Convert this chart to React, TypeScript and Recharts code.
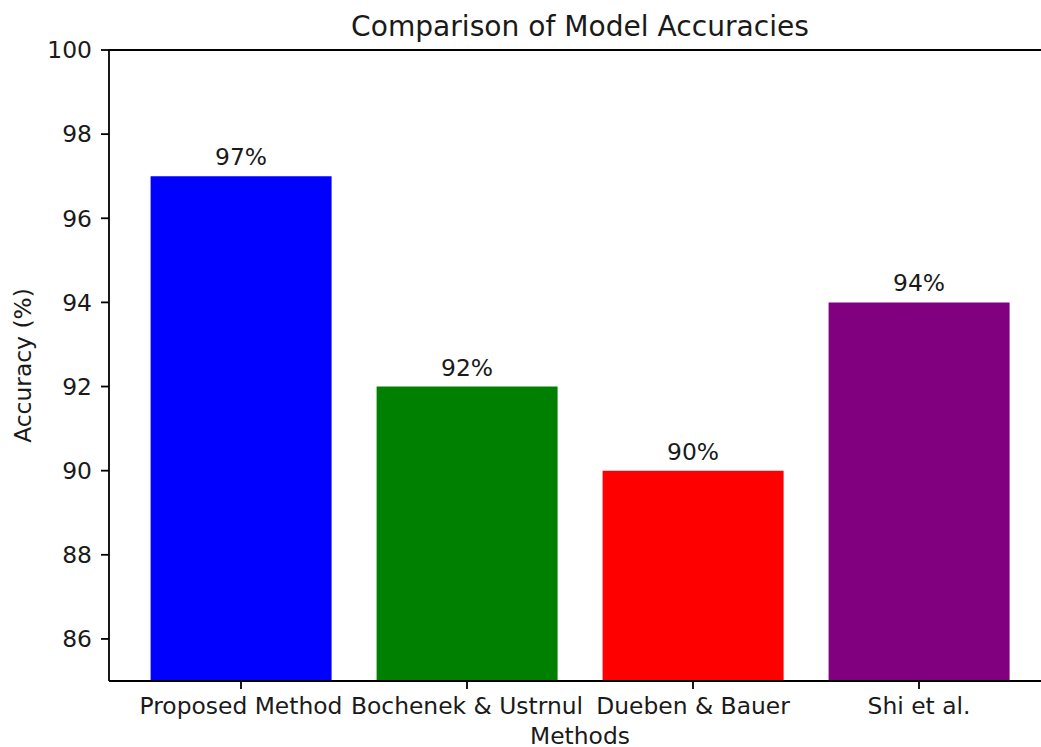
import React from 'react';
import { BarChart, Bar, XAxis, YAxis, Cell, LabelList, ReferenceLine } from 'recharts';

const methods = ['Proposed Method', 'Bochenek & Ustrnul', 'Dueben & Bauer', 'Shi et al.'];
const accuracies = [97, 92, 90, 94];
const barColors = ['#0000ff', '#008000', '#ff0000', '#800080'];
const yTicks = [86, 88, 90, 92, 94, 96, 98, 100];
const yDomain = [85, 100];
const titleText = 'Comparison of Model Accuracies';
const xLabel = 'Methods';
const yLabel = 'Accuracy (%)';

const FONT = '"DejaVu Sans", sans-serif';
const TICK_FS = 23.4;
const TITLE_FS = 28.1;

const data = methods.map((m, i) => ({ method: m, accuracy: accuracies[i] }));

export default function App() {
  return (
    <div style={{ position: 'absolute', left: 0, top: 0, width: 1041, height: 747, overflow: 'hidden', background: '#fff' }}>
      <BarChart
        width={1060}
        height={747}
        data={data}
        margin={{ top: 50, right: 9, bottom: 0, left: 0 }}
        barCategoryGap="10%"
      >
        <XAxis
          dataKey="method"
          height={66}
          interval={0}
          padding={{ left: 19, right: 19 }}
          tickSize={8}
          tickMargin={8}
          axisLine={{ stroke: '#000', strokeWidth: 1.8 }}
          tickLine={{ stroke: '#000', strokeWidth: 1.8 }}
          tick={{ fill: '#1a1a1a', fontSize: TICK_FS, fontFamily: FONT }}
          label={{
            content: (props: any) => {
              const vb = props.viewBox || { x: 109, y: 681, width: 942, height: 66 };
              return (
                <text x={vb.x + vb.width / 2} y={vb.y + 63} textAnchor="middle" fill="#1a1a1a" fontSize={TICK_FS} fontFamily={FONT}>
                  {xLabel}
                </text>
              );
            },
          }}
        />
        <YAxis
          width={109}
          domain={yDomain}
          ticks={yTicks}
          allowDataOverflow
          tickSize={8}
          tickMargin={9}
          axisLine={{ stroke: '#000', strokeWidth: 1.8 }}
          tickLine={{ stroke: '#000', strokeWidth: 1.8 }}
          tick={{ fill: '#1a1a1a', fontSize: TICK_FS, fontFamily: FONT }}
          label={{
            content: (props: any) => {
              const vb = props.viewBox || { x: 0, y: 50, width: 109, height: 631 };
              const cx = vb.x + 30.5;
              const cy = vb.y + vb.height / 2;
              return (
                <text x={cx} y={cy} transform={`rotate(-90 ${cx} ${cy})`} textAnchor="middle" fill="#1a1a1a" fontSize={TICK_FS} fontFamily={FONT}>
                  {yLabel}
                </text>
              );
            },
          }}
        />
        <ReferenceLine
          y={100}
          stroke="#000"
          strokeWidth={1.8}
          ifOverflow="visible"
          label={{
            content: (props: any) => {
              const vb = props.viewBox || { x: 109, y: 50, width: 942, height: 0 };
              return (
                <text x={vb.x + vb.width / 2} y={vb.y - 14.4} textAnchor="middle" fill="#1a1a1a" fontSize={TITLE_FS} fontFamily={FONT}>
                  {titleText}
                </text>
              );
            },
          }}
        />
        <Bar dataKey="accuracy" isAnimationActive={false}>
          {data.map((d, i) => (
            <Cell key={d.method} fill={barColors[i]} />
          ))}
          <LabelList
            dataKey="accuracy"
            position="top"
            offset={11}
            formatter={(v: any) => `${v}%`}
            fill="#1a1a1a"
            fontSize={TICK_FS}
            fontFamily={FONT}
          />
        </Bar>
      </BarChart>
    </div>
  );
}
